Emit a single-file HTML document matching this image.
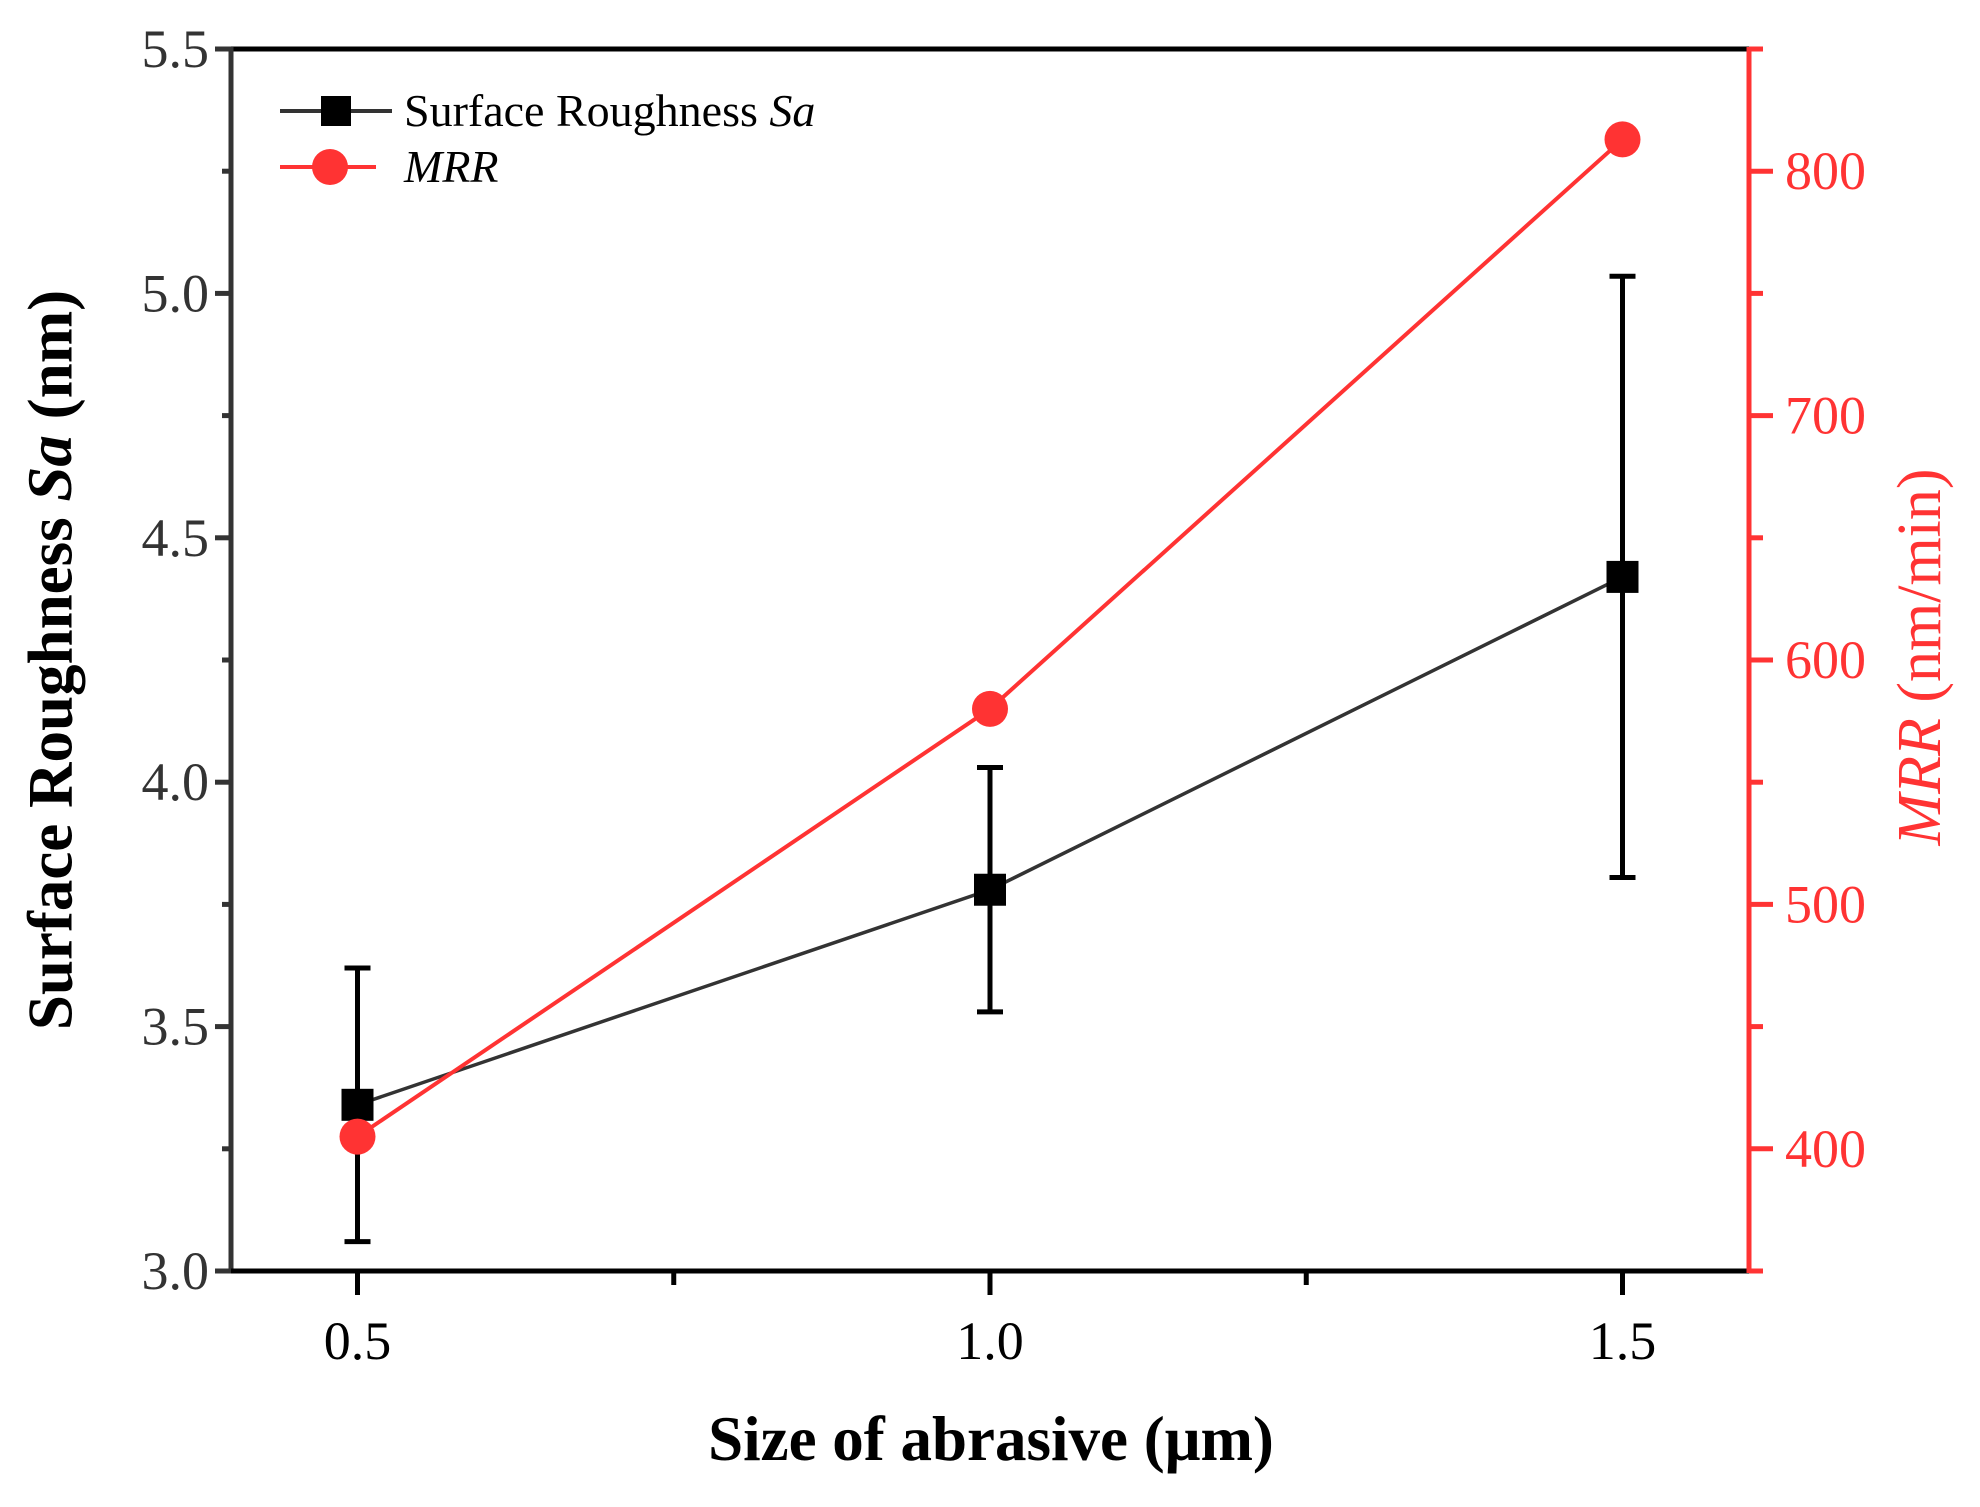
<!DOCTYPE html>
<html><head><meta charset="utf-8"><style>
html,body{margin:0;padding:0;background:#fff;}
svg{display:block;font-family:"Liberation Serif",serif;}
</style></head><body>
<svg id="chart" width="1980" height="1507" viewBox="0 0 1980 1507">
<g id="axes"></g>
<g id="plot"></g>
<g>
  <line x1="280" y1="111" x2="392" y2="111" stroke="#333" stroke-width="4"/>
  <rect x="321" y="96" width="30" height="30" fill="#000"/>
  <text x="404" y="126" font-size="46">Surface Roughness <tspan font-style="italic">Sa</tspan></text>
  <line x1="280" y1="167" x2="376" y2="167" stroke="#f33" stroke-width="4"/>
  <circle cx="330" cy="167" r="18" fill="#f33"/>
  <text x="404" y="182" font-size="46" font-style="italic">MRR</text>
</g>
<text x="57" y="660" font-size="63" font-weight="bold" text-anchor="middle" transform="rotate(-90 57 660)" dominant-baseline="middle">Surface Roughness <tspan font-style="italic">Sa</tspan> (nm)</text>
<text x="991" y="1460" font-size="63" font-weight="bold" text-anchor="middle">Size of abrasive (μm)</text>
<text x="1926" y="657" font-size="62" fill="#f33" text-anchor="middle" dominant-baseline="middle" transform="rotate(-90 1926 657)"><tspan font-style="italic">MRR</tspan> (nm/min)</text>
</svg>
<script>
const xCats=[0.5,1.0,1.5];
const saVals=[3.34,3.78,4.42];
const saErr=[0.28,0.25,0.615];
const mrrVals=[405,580,813];
const leftTicks=["3.0","3.5","4.0","4.5","5.0","5.5"];
const rightTicks=["400","500","600","700","800"];
const xTicks=["0.5","1.0","1.5"];

const L=231,R=1749,T=49,B=1271;
const X=v=>L+(v-0.4)/(1.6-0.4)*(R-L);
const YL=v=>B-(v-3.0)/(5.5-3.0)*(B-T);
const YR=v=>B-(v-350)/(850-350)*(B-T);
const NS="http://www.w3.org/2000/svg";
function mk(p,tag,at){const e=document.createElementNS(NS,tag);for(const k in at)e.setAttribute(k,at[k]);p.appendChild(e);return e;}
const axes=document.getElementById('axes'),plot=document.getElementById('plot');

let e=mk(axes,'line',{x1:L,y1:T,x2:R,y2:T,stroke:'#000','stroke-width':5});


e=mk(axes,'line',{x1:L,y1:T-2,x2:L,y2:B+2,stroke:'#333','stroke-width':5});


e=mk(axes,'line',{x1:L-2,y1:B,x2:R,y2:B,stroke:'#000','stroke-width':5});


e=mk(axes,'line',{x1:R,y1:T-2,x2:R,y2:B+2,stroke:'#f33','stroke-width':5});



for(let i=0;i<leftTicks.length;i++){
  const v=parseFloat(leftTicks[i]),y=YL(v);
  e=mk(axes,'line',{x1:L-16,y1:y,x2:L,y2:y,stroke:'#333','stroke-width':5});
  
  
  e=mk(axes,'text',{x:L-22,y:y+18,'font-size':54,'text-anchor':'end',fill:'#333'});
  e.textContent=leftTicks[i];
  
  
  if(i<leftTicks.length-1){const ym=YL(v+0.25);
    e=mk(axes,'line',{x1:L-9,y1:ym,x2:L,y2:ym,stroke:'#333','stroke-width':5});
    
    }
}
for(let i=0;i<rightTicks.length;i++){
  const v=parseFloat(rightTicks[i]),y=YR(v);
  e=mk(axes,'line',{x1:R,y1:y,x2:R+24,y2:y,stroke:'#f33','stroke-width':5});
  
  
  e=mk(axes,'text',{x:R+36,y:y+18,'font-size':54,fill:'#f33'});
  e.textContent=rightTicks[i];
  
  
}
for(const v of [350,450,550,650,750,850]){const y=YR(v);
  e=mk(axes,'line',{x1:R,y1:y,x2:R+14,y2:y,stroke:'#f33','stroke-width':5});
  
  }
for(let i=0;i<xTicks.length;i++){
  const x=X(parseFloat(xTicks[i]));
  e=mk(axes,'line',{x1:x,y1:B,x2:x,y2:B+24,stroke:'#000','stroke-width':5});
  
  
  e=mk(axes,'text',{x:x,y:B+88,'font-size':54,'text-anchor':'middle'});
  e.textContent=xTicks[i];
  
  
}
for(const v of [0.75,1.25]){const x=X(v);
  e=mk(axes,'line',{x1:x,y1:B,x2:x,y2:B+14,stroke:'#000','stroke-width':5});
  
  }

e=mk(plot,'polyline',{points:xCats.map((c,i)=>X(c)+','+YL(saVals[i])).join(' '),fill:'none',stroke:'#333','stroke-width':3.5});


for(let i=0;i<xCats.length;i++){
  const x=X(xCats[i]),y1=YL(saVals[i]+saErr[i]),y2=YL(saVals[i]-saErr[i]);
  const g=mk(plot,'g',{stroke:'#000','stroke-width':5});
  
  
  mk(g,'line',{x1:x,y1:y1,x2:x,y2:y2});
  mk(g,'line',{x1:x-13,y1:y1,x2:x+13,y2:y1});
  mk(g,'line',{x1:x-13,y1:y2,x2:x+13,y2:y2});
}
e=mk(plot,'polyline',{points:xCats.map((c,i)=>X(c)+','+YR(mrrVals[i])).join(' '),fill:'none',stroke:'#f33','stroke-width':4});


for(let i=0;i<xCats.length;i++){
  e=mk(plot,'rect',{x:X(xCats[i])-16,y:YL(saVals[i])-16,width:32,height:32,fill:'#000'});
  
  
}
for(let i=0;i<xCats.length;i++){
  e=mk(plot,'circle',{cx:X(xCats[i]),cy:YR(mrrVals[i]),r:18,fill:'#f33'});
  
  
}
</script>
</body></html>
